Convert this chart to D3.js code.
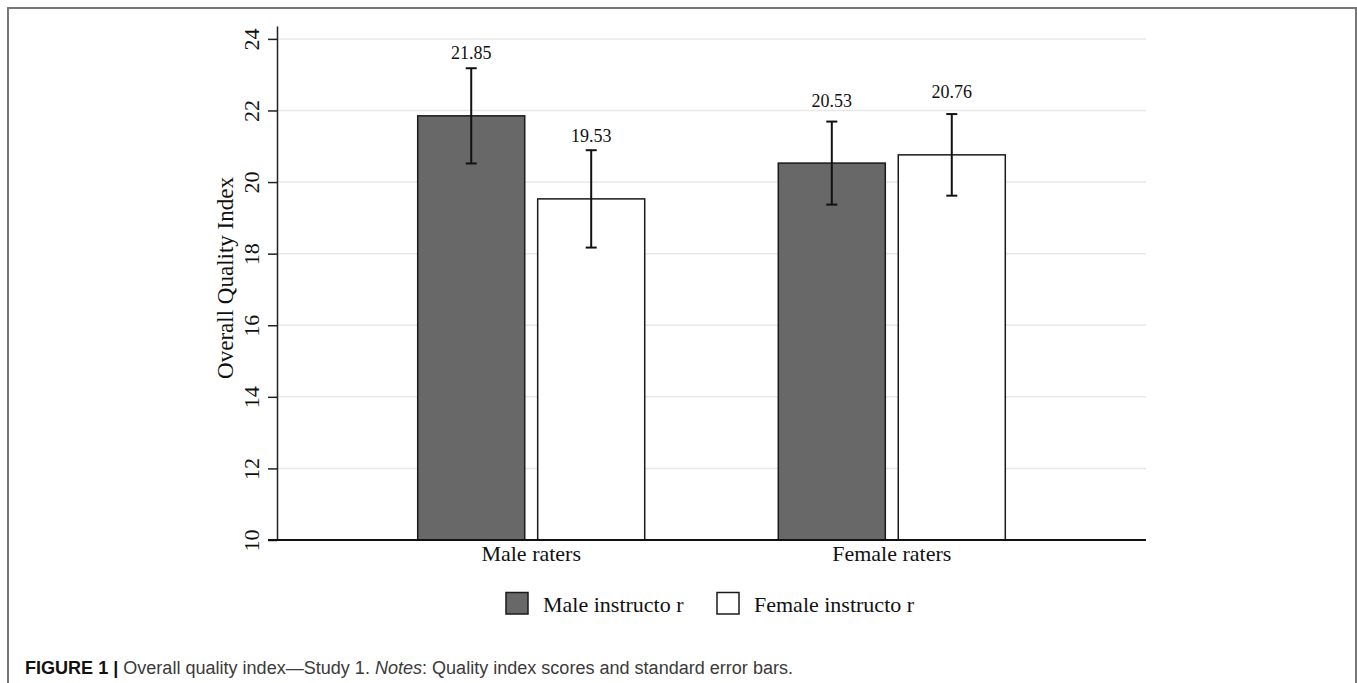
<!DOCTYPE html>
<html>
<head>
<meta charset="utf-8">
<script src="https://cdn.jsdelivr.net/npm/d3@7"></script>
<style>
  html, body { margin: 0; padding: 0; background: #fff; }
  svg { display: block; }
</style>
</head>
<body>
<svg id="chart" width="1357" height="683"></svg>
<script>
// ---- Data ----
const groups = ["Male raters", "Female raters"];
const series = ["Male instructo r", "Female instructo r"];
const meansMaleInstructor = [21.85, 20.53];
const meansFemaleInstructor = [19.53, 20.76];
const seMaleInstructor = [1.33, 1.16];
const seFemaleInstructor = [1.36, 1.14];
const yTicks = [10, 12, 14, 16, 18, 20, 22, 24];
const yTitle = "Overall Quality Index";
const captionBold = "FIGURE 1 | ";
const captionText1 = "Overall quality index\u2014Study 1. ";
const captionItalic = "Notes";
const captionText2 = ": Quality index scores and standard error bars.";

(function () {
const rows = [];
groups.forEach((g, i) => {
  rows.push({group: g, series: series[0], value: meansMaleInstructor[i], se: seMaleInstructor[i]});
  rows.push({group: g, series: series[1], value: meansFemaleInstructor[i], se: seFemaleInstructor[i]});
});

const serif = "'Liberation Serif', 'Times New Roman', serif";
const sans = "'Liberation Sans', Arial, Helvetica, sans-serif";
const fills = {[series[0]]: "#686868", [series[1]]: "#ffffff"};

const svg = d3.select("#chart");

// Outer frame
svg.append("path")
  .attr("d", "M8,690 L8,8 L1356,8 L1356,690")
  .attr("fill", "none").attr("stroke", "#777").attr("stroke-width", 2);

const pLeft = 277, pRight = 1146, pTop = 26, pBottom = 540;

const y = d3.scaleLinear().domain([10, 24.36]).range([pBottom, pTop]);
const x0 = d3.scalePoint().domain(groups).range([pLeft, pRight]).padding(0.705);
const x1 = d3.scaleBand().domain(series).range([-113.5, 113.5]).paddingInner(0.108).paddingOuter(0);

// Gridlines
svg.append("g").selectAll("line").data(yTicks.filter(t => t > 10)).join("line")
  .attr("x1", pLeft).attr("x2", pRight)
  .attr("y1", d => y(d)).attr("y2", d => y(d))
  .attr("stroke", "#e8e8e8").attr("stroke-width", 1.5);

// Y axis
const yAxis = svg.append("g").attr("transform", `translate(${pLeft},0)`)
  .call(d3.axisLeft(y).tickValues(yTicks).tickSize(9).tickSizeOuter(0).tickFormat(d3.format("d")));
yAxis.select(".domain").attr("stroke", "#222").attr("stroke-width", 1.5);
yAxis.selectAll(".tick line").attr("stroke", "#222").attr("stroke-width", 1.5);
yAxis.selectAll(".tick text")
  .attr("font-family", serif).attr("font-size", 22).attr("fill", "#111")
  .attr("text-anchor", "middle")
  .attr("x", null).attr("dy", null)
  .attr("transform", "translate(-18,0) rotate(-90)");

// Y title
svg.append("text")
  .attr("transform", "translate(233,278) rotate(-90)")
  .attr("text-anchor", "middle")
  .attr("font-family", serif).attr("font-size", 23).attr("fill", "#111")
  .text(yTitle);

// Bars
svg.append("g").selectAll("rect").data(rows).join("rect")
  .attr("x", d => x0(d.group) + x1(d.series))
  .attr("width", x1.bandwidth())
  .attr("y", d => y(d.value))
  .attr("height", d => y(10) - y(d.value))
  .attr("fill", d => fills[d.series])
  .attr("stroke", "#1a1a1a").attr("stroke-width", 1.5);

// X axis baseline
svg.append("line")
  .attr("x1", pLeft - 9).attr("x2", pRight)
  .attr("y1", y(10)).attr("y2", y(10))
  .attr("stroke", "#111").attr("stroke-width", 2);

// Error bars
const capHalf = 5.5;
const eb = svg.append("g").attr("stroke", "#111").attr("stroke-width", 2).attr("fill", "none");
rows.forEach(d => {
  const cx = x0(d.group) + x1(d.series) + x1.bandwidth() / 2;
  const yt = y(d.value + d.se), yb = y(d.value - d.se);
  eb.append("line").attr("x1", cx).attr("x2", cx).attr("y1", yt).attr("y2", yb);
  eb.append("line").attr("x1", cx - capHalf).attr("x2", cx + capHalf).attr("y1", yt).attr("y2", yt);
  eb.append("line").attr("x1", cx - capHalf).attr("x2", cx + capHalf).attr("y1", yb).attr("y2", yb);
});

// Value labels
const labelOffset = 1.58;
svg.append("g").selectAll("text").data(rows).join("text")
  .attr("x", d => x0(d.group) + x1(d.series) + x1.bandwidth() / 2)
  .attr("y", d => y(d.value + labelOffset))
  .attr("text-anchor", "middle")
  .attr("font-family", serif).attr("font-size", 18).attr("fill", "#111")
  .text(d => d3.format(".2f")(d.value));

// X labels
svg.append("g").selectAll("text").data(groups).join("text")
  .attr("x", d => x0(d))
  .attr("y", 561)
  .attr("text-anchor", "middle")
  .attr("font-family", serif).attr("font-size", 22).attr("fill", "#111")
  .text(d => d);

// Legend
const legendX = [506, 717];
const lg = svg.append("g");
series.forEach((s, i) => {
  lg.append("rect").attr("x", legendX[i]).attr("y", 592.5).attr("width", 22).attr("height", 21.5)
    .attr("fill", fills[s]).attr("stroke", "#1a1a1a").attr("stroke-width", 1.5);
  lg.append("text").attr("x", legendX[i] + 37).attr("y", 611.5)
    .attr("font-family", serif).attr("font-size", 22).attr("fill", "#111")
    .text(s);
});

// Caption
const cap1 = svg.append("text")
  .attr("x", 25).attr("y", 674)
  .attr("font-family", sans).attr("font-size", 18).attr("fill", "#3a3a3a");
cap1.append("tspan").attr("font-weight", "bold").attr("fill", "#111").text(captionBold);
cap1.append("tspan").text(captionText1);
cap1.append("tspan").attr("font-style", "italic").text(captionItalic);
cap1.append("tspan").text(captionText2);
const w = cap1.node().getComputedTextLength();
if (w > 0) cap1.attr("textLength", 768).attr("lengthAdjust", "spacingAndGlyphs");
})();
</script>
</body>
</html>
